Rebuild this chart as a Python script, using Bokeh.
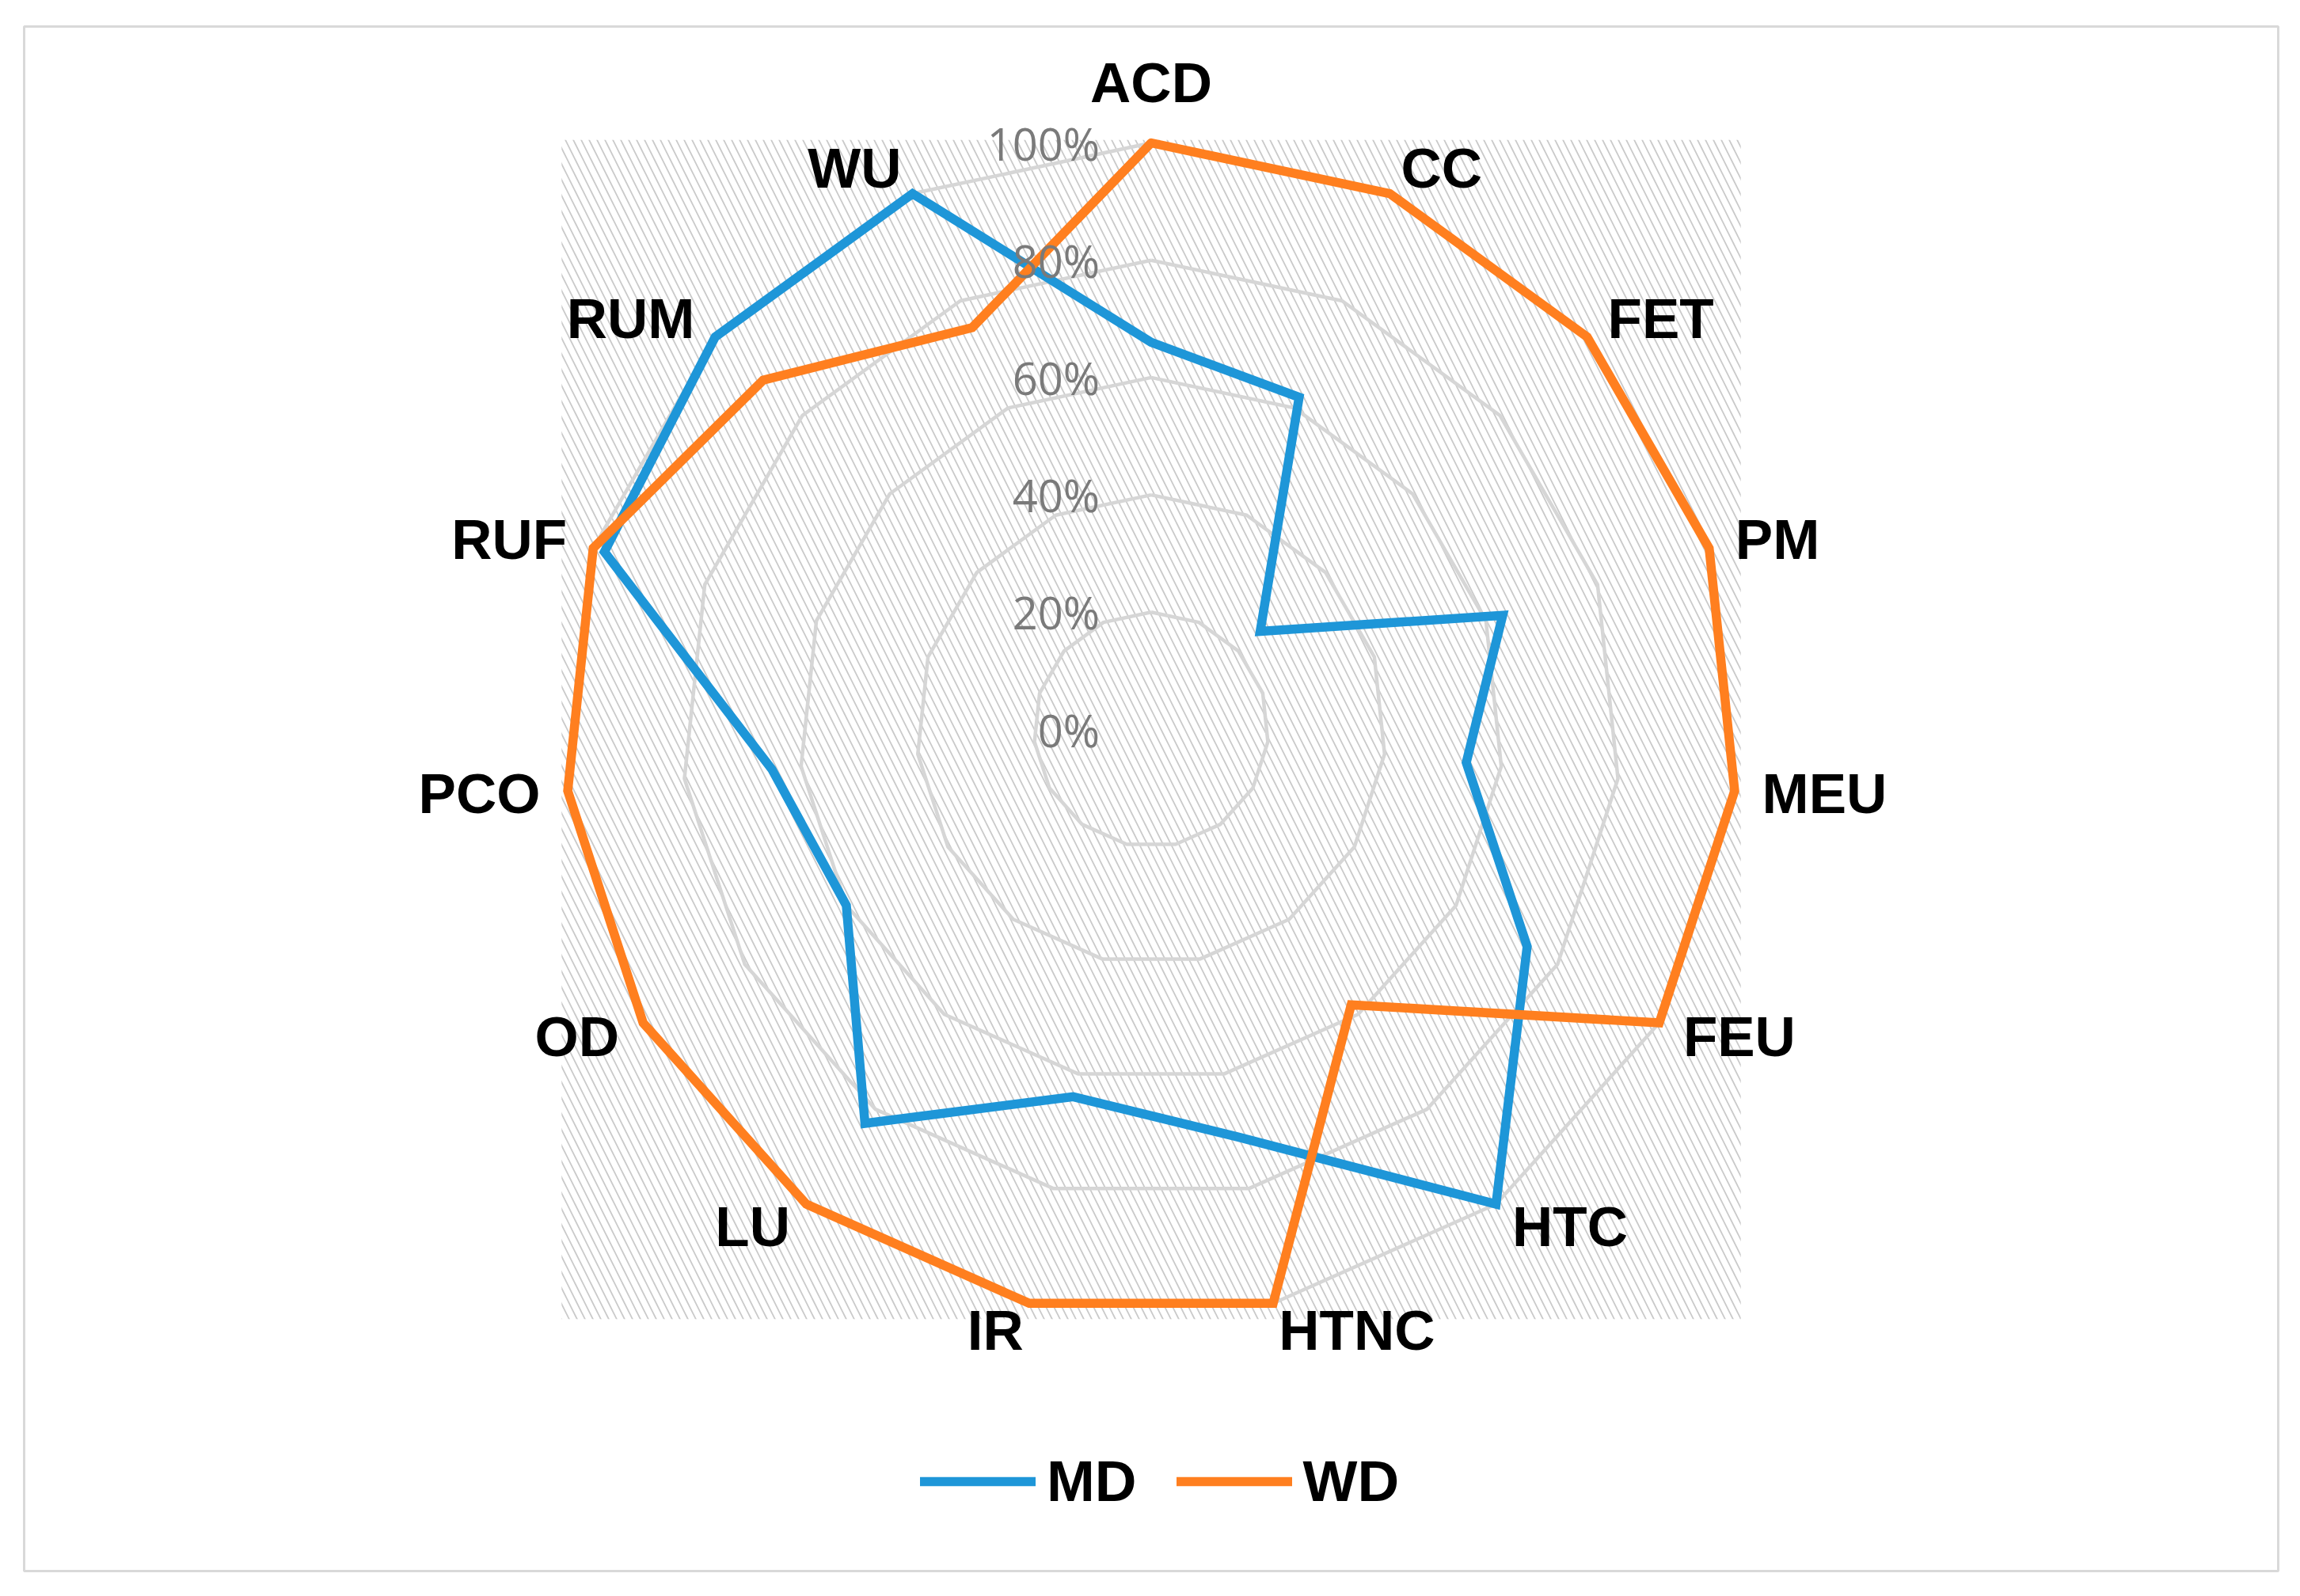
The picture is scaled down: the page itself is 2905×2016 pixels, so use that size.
import math
from bokeh.plotting import figure
from bokeh.models import Range1d, ColumnDataSource, Legend, LegendItem
from bokeh.core.properties import value
from bokeh.embed import file_html
from bokeh.resources import INLINE

# ---------------- data ----------------
categories = ["ACD", "CC", "FET", "PM", "MEU", "FEU", "HTC", "HTNC",
              "IR", "LU", "OD", "PCO", "RUF", "RUM", "WU"]
md_values = [66, 62, 25, 63, 54, 74, 100, 71, 64, 83, 60, 65, 98, 100, 100]
wd_values = [100, 100, 100, 100, 100, 100, 58, 100, 100, 100, 100, 100, 100, 89, 75]
ring_levels = [20, 40, 60, 80, 100]
tick_levels = [0, 20, 40, 60, 80, 100]
tick_labels = ["0%", "20%", "40%", "60%", "80%", "100%"]
series_names = ["MD", "WD"]
series_colors = ["#1E96D8", "#FF7F1F"]

# ---------------- geometry ----------------
W, H = 2889, 2000
PX = 7.41                 # pixels per 1 % of radius
CX, CY = 1453.5, 921.0    # centre of radar, figure pixels from top-left


def px2x(px):
    return (px - CX) / PX


def px2y(py):
    return (CY - py) / PX


n = len(categories)
angles = [math.radians(90 - 360.0 / n * i) for i in range(n)]


def polar(vals):
    xs = [v * math.cos(a) for v, a in zip(vals, angles)]
    ys = [v * math.sin(a) for v, a in zip(vals, angles)]
    return xs + xs[:1], ys + ys[:1]


p = figure(width=W, height=H, output_backend="svg", toolbar_location=None,
           x_range=Range1d(px2x(0), px2x(W)), y_range=Range1d(px2y(H), px2y(0)),
           x_axis_location=None, y_axis_location=None, min_border=0,
           outline_line_color=None, background_fill_color="white")
p.grid.visible = False

# outer chart border
p.quad(left=px2x(30), right=px2x(2877), top=px2y(33), bottom=px2y(1984),
       fill_color=None, line_color="#d9d9d9", line_width=3)

# hatched plot area
p.quad(left=-100.5, right=100.5, bottom=-100.5, top=100.5,
       fill_color=None, line_color=None,
       hatch_pattern="\\", hatch_color="#cacaca", hatch_scale=20,
       hatch_weight=1.8, hatch_alpha=1.0)

# rings
ring_xs, ring_ys = [], []
for lv in ring_levels:
    xs, ys = polar([lv] * n)
    ring_xs.append(xs)
    ring_ys.append(ys)
p.multi_line(xs=ring_xs, ys=ring_ys, line_color="#d6d6d6", line_width=4.5)

# series
renderers = []
for name, vals, col in zip(series_names, [md_values, wd_values], series_colors):
    xs, ys = polar(vals)
    r = p.line(xs, ys, line_color=col, line_width=11.5, line_join="miter",
               line_cap="round")
    renderers.append(r)

# category labels
lab_x, lab_y, lab_align = [], [], []
for cat, a in zip(categories, angles):
    c = math.cos(a)
    rad = 110.3 if abs(c) < 0.05 else 104.7
    lab_x.append(rad * math.cos(a))
    lab_y.append(rad * math.sin(a))
    lab_align.append("center" if abs(c) < 0.05 else ("left" if c > 0 else "right"))
src = ColumnDataSource(dict(x=lab_x, y=lab_y, t=categories, al=lab_align))
p.text(x="x", y="y", text="t", text_align="al", source=src,
       text_baseline="middle", text_font=value("Liberation Sans"),
       text_font_style="bold", text_font_size="71px", text_color="#000000")

# radial tick labels
p.text(x=[0] * len(tick_levels), y=tick_levels, text=tick_labels,
       x_offset=-65, text_align="right", text_baseline="middle",
       text_font=value("Open Sans"), text_font_size="56px",
       text_color="#7a7a7a")

# legend
legend = Legend(items=[LegendItem(label=nm, renderers=[r])
                       for nm, r in zip(series_names, renderers)],
                orientation="horizontal", location=(1162, 88),
                glyph_width=146, glyph_height=60, label_height=60,
                label_standoff=14, spacing=50, padding=0, margin=0,
                border_line_color=None, background_fill_alpha=0,
                label_text_font="Liberation Sans", label_text_font_style="bold",
                label_text_font_size="73px", label_text_color="#000000")
p.add_layout(legend)

open("out.html", "w").write(file_html(p, INLINE))
